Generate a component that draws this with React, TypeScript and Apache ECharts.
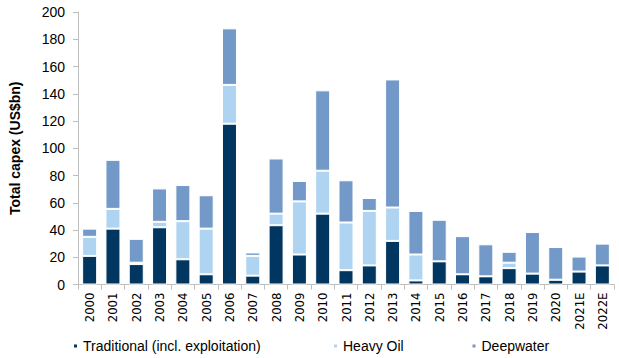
import React, { useEffect, useRef } from "react";
import * as echarts from "echarts";

const categories = ["2000","2001","2002","2003","2004","2005","2006","2007","2008","2009","2010","2011","2012","2013","2014","2015","2016","2017","2018","2019","2020","2021E","2022E"];
const traditional = [21, 41, 15, 42, 18.5, 7.5, 118, 6.5, 43.5, 22, 52, 10.5, 14, 32, 3, 17, 7.5, 6, 12, 8, 3.5, 9.5, 14];
const heavyOil = [14, 14.5, 1, 4, 28, 33.5, 28.5, 14.5, 8.5, 39, 31.5, 35, 40, 24.5, 19, 0, 0, 0, 4, 0, 0, 0, 0];
const deepwater = [6, 36, 17.5, 24.5, 26.5, 24.5, 41.5, 2.5, 40.5, 15, 59, 31, 9.5, 94, 32, 30.5, 28, 23.5, 8, 30.5, 24, 11, 16];
const yTicks = { min: 0, max: 200, interval: 20 };
const seriesNames = ["Traditional (incl. exploitation)", "Heavy Oil", "Deepwater"];
const colors = ["#003660", "#AED4F1", "#7399C8"];

const FONT = "'Liberation Sans', Arial, sans-serif";

export default function App() {
  const ref = useRef<HTMLDivElement>(null);
  useEffect(() => {
    if (!ref.current) return;
    const chart = echarts.init(ref.current, undefined, { renderer: "svg" });
    const values = [traditional, heavyOil, deepwater];
    const legendLefts = [72, 332, 470.5];
    chart.setOption({
      animation: false,
      textStyle: { fontFamily: FONT },
      grid: { left: 71, right: 5, top: 12, bottom: 73.5, containLabel: false },
      legend: seriesNames.map((n, i) => ({
        data: [{ name: n, icon: "rect" }],
        left: legendLefts[i],
        top: 339,
        itemWidth: 5,
        itemHeight: 5,
        padding: 0,
        textStyle: { fontSize: 14, color: "#000", fontFamily: FONT },
      })),
      xAxis: {
        type: "category",
        data: categories,
        axisLine: { lineStyle: { color: "#BFBFBF", width: 1 } },
        axisTick: { show: true, length: 5, alignWithLabel: false, lineStyle: { color: "#BFBFBF" } },
        axisLabel: {
          rotate: 90,
          interval: 0,
          margin: 8,
          fontSize: 13,
          color: "#000",
          fontFamily: "'Liberation Sans Narrow', 'DejaVu Sans Condensed', Arial, sans-serif",
        },
      },
      yAxis: {
        type: "value",
        min: yTicks.min,
        max: yTicks.max,
        interval: yTicks.interval,
        name: "Total capex (US$bn)",
        nameLocation: "middle",
        nameGap: 56,
        nameTextStyle: { fontSize: 14, fontWeight: "bold", color: "#000", fontFamily: FONT },
        axisLine: { show: true, lineStyle: { color: "#BFBFBF", width: 1 } },
        axisTick: { show: true, length: 5, lineStyle: { color: "#BFBFBF" } },
        splitLine: { show: false },
        axisLabel: { fontSize: 14, color: "#000", margin: 13 },
      },
      series: seriesNames.map((n, i) => ({
        name: n,
        type: "bar",
        stack: "total",
        data: values[i],
        barWidth: 15,
        itemStyle: { color: colors[i], borderColor: "#fff", borderWidth: 1 },
      })),
    });
    return () => chart.dispose();
  }, []);
  return <div ref={ref} style={{ width: 619, height: 358, position: "absolute", left: 0, top: 0 }} />;
}
